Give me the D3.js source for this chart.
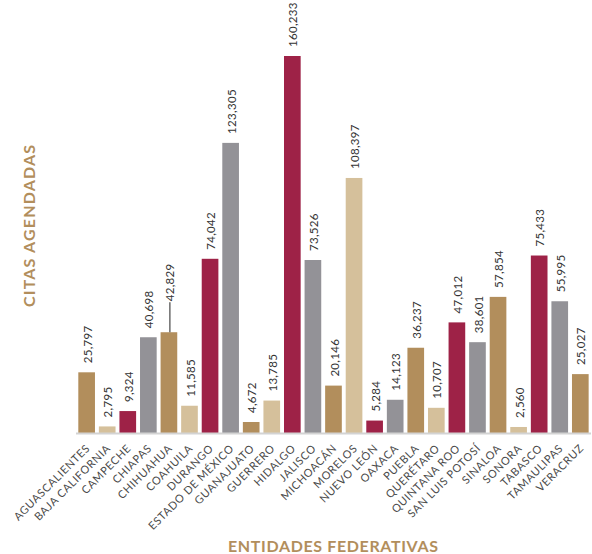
<!DOCTYPE html>
<html>
<head>
<meta charset="utf-8">
<script src="https://cdn.jsdelivr.net/npm/d3@7/dist/d3.min.js"></script>
<style>
  html, body { margin: 0; padding: 0; background: #fff; }
  svg { display: block; }
  text { font-family: "Lato", "Open Sans", sans-serif; }
</style>
</head>
<body>
<svg id="chart" width="592" height="554"></svg>
<script>
const estados = ["AGUASCALIENTES","BAJA CALIFORNIA","CAMPECHE","CHIAPAS","CHIHUAHUA","COAHUILA","DURANGO","ESTADO DE MÉXICO","GUANAJUATO","GUERRERO","HIDALGO","JALISCO","MICHOACÁN","MORELOS","NUEVO LEÓN","OAXACA","PUEBLA","QUERÉTARO","QUINTANA ROO","SAN LUIS POTOSÍ","SINALOA","SONORA","TABASCO","TAMAULIPAS","VERACRUZ"];
const citas = [25797,2795,9324,40698,42829,11585,74042,123305,4672,13785,160233,73526,20146,108397,5284,14123,36237,10707,47012,38601,57854,2560,75433,55995,25027];
const palette = ["#b28e5c","#d5c09b","#9e2247","#939297"];
const raisedLabels = ["CHIHUAHUA"];

const svg = d3.select("#chart");
const baseY = 433;

const x = d3.scaleBand().domain(estados).range([76.35, 590.6]).paddingInner(0.19).paddingOuter(0.095);
const y = d3.scaleLinear().domain([0, 160233]).range([baseY, 56]);

const data = estados.map((e, i) => ({ e, v: citas[i], c: palette[i % 4] }));

svg.append("g").selectAll("rect").data(data).join("rect")
  .attr("x", d => x(d.e))
  .attr("y", d => y(d.v))
  .attr("width", x.bandwidth())
  .attr("height", d => baseY - y(d.v))
  .attr("fill", d => d.c);

// axis baseline
const xAxis = d3.axisBottom(x).tickSize(0).tickFormat(d => d);
const gx = svg.append("g").attr("transform", `translate(0,${baseY})`).call(xAxis);
gx.select(".domain").attr("stroke", "#d3d3d3").attr("stroke-width", 2).attr("d", "M76,0.5H591");
gx.selectAll(".tick text")
  .attr("fill", "#4a4a4a")
  .style("font-size", "11px")
  .style("letter-spacing", "0.6px")
  .attr("text-anchor", "end")
  .attr("dy", "0")
  .attr("y", 0)
  .attr("transform", "translate(4,16) rotate(-45)");

// value labels
const fmt = d3.format(",");
const lbl = svg.append("g");
data.forEach(d => {
  const cx = x(d.e) + x.bandwidth() / 2;
  const top = y(d.v);
  const raised = raisedLabels.includes(d.e);
  const start = raised ? top - 31 : top - 9;
  if (raised) {
    lbl.append("line").attr("x1", cx + 1).attr("x2", cx + 1).attr("y1", top).attr("y2", start + 1)
      .attr("stroke", "#222").attr("stroke-width", 1);
  }
  lbl.append("text")
    .attr("transform", `translate(${cx + 1},${start}) rotate(-90)`)
    .attr("dy", "0.36em")
    .attr("fill", "#333")
    .style("font-size", "11.5px")
    .style("letter-spacing", "0.3px")
    .text(fmt(d.v));
});

// axis titles
svg.append("text")
  .attr("transform", "translate(35,226) rotate(-90)")
  .attr("text-anchor", "middle")
  .attr("fill", "#b28e5c")
  .style("font-size", "16px").style("font-weight", "bold")
  .attr("textLength", 162).attr("lengthAdjust", "spacing")
  .text("CITAS AGENDADAS");

svg.append("text")
  .attr("x", 333).attr("y", 551.5)
  .attr("text-anchor", "middle")
  .attr("fill", "#b28e5c")
  .style("font-size", "16px").style("font-weight", "bold")
  .attr("textLength", 210).attr("lengthAdjust", "spacing")
  .text("ENTIDADES FEDERATIVAS");
</script>
</body>
</html>
